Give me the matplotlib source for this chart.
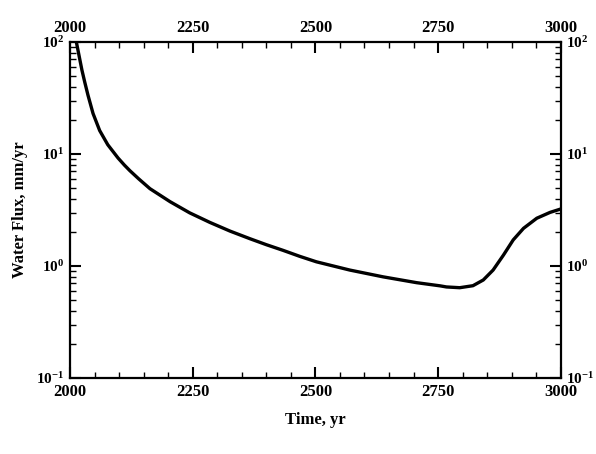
import numpy as np
import matplotlib.pyplot as plt
from matplotlib.ticker import LogLocator, MultipleLocator

plt.rcParams['font.family'] = ['Liberation Serif', 'DejaVu Serif']
plt.rcParams['font.weight'] = 'bold'
plt.rcParams['mathtext.fontset'] = 'custom'
plt.rcParams['mathtext.rm'] = 'Liberation Serif:bold'
plt.rcParams['mathtext.it'] = 'Liberation Serif:bold'
plt.rcParams['mathtext.bf'] = 'Liberation Serif:bold'

# values
years = [2013, 2020, 2024.4, 2030, 2036.7, 2047, 2060.5, 2077, 2098, 2111,
         2122, 2140, 2163, 2204, 2244, 2285, 2326, 2367, 2400, 2434,
         2468, 2502, 2570, 2638, 2706, 2754, 2767, 2794, 2821, 2842,
         2862, 2883, 2903, 2924, 2951, 2978, 3000]
flux = [100, 70, 56, 44, 33.5, 23, 16.2, 12.1, 9.2, 7.95,
        7.1, 6.0, 4.9, 3.75, 2.98, 2.45, 2.05, 1.75, 1.55, 1.38,
        1.22, 1.09, 0.92, 0.80, 0.71, 0.665, 0.65, 0.64, 0.667, 0.75,
        0.92, 1.25, 1.71, 2.17, 2.67, 3.01, 3.23]

x_ticks = [2000, 2250, 2500, 2750, 3000]

fig = plt.figure(figsize=(5.96, 4.54), dpi=100)
ax = fig.add_axes([0.1174, 0.1674, 0.8236, 0.7401])
ax.plot(years, flux, color='black', lw=2.4, solid_joinstyle='round')

ax.set_yscale('log')
ax.set_xlim(2000, 3000)
ax.set_ylim(0.1, 100)
ax.set_xticks(x_ticks)
ax.xaxis.set_minor_locator(MultipleLocator(50))
ax.yaxis.set_major_locator(LogLocator(base=10))
ax.yaxis.set_minor_locator(LogLocator(base=10, subs=np.arange(2, 10)))

ax.tick_params(which='both', direction='in', top=True, right=True,
               labeltop=True, labelright=True, width=1.5)
ax.tick_params(axis='x', labelsize=12)
ax.tick_params(axis='y', labelsize=11)
ax.tick_params(which='major', length=8, pad=4)
ax.tick_params(which='minor', length=4, width=1)
for s in ax.spines.values():
    s.set_linewidth(1.6)

ax.set_xlabel('Time, yr', fontsize=12, fontweight='bold', labelpad=9)
ax.set_ylabel('Water Flux, mm/yr', fontsize=12, fontweight='bold', labelpad=6)

fig.savefig('out.png', dpi=100)
